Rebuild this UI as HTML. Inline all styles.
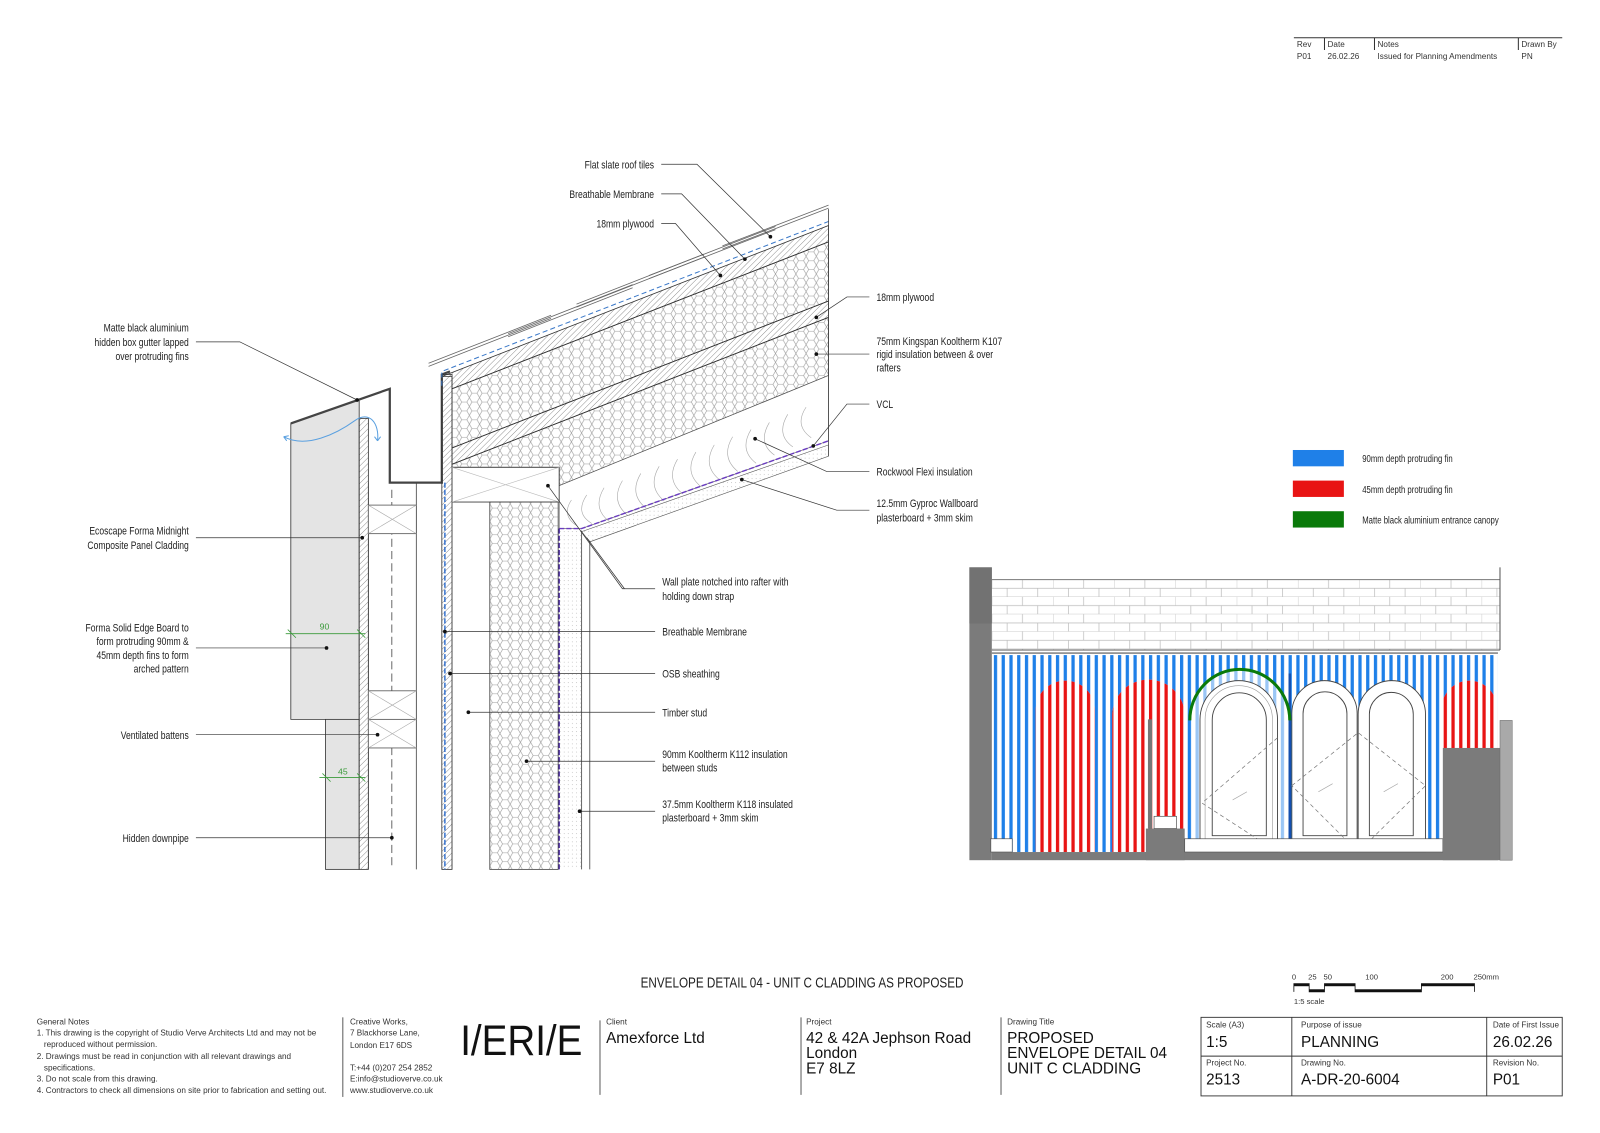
<!DOCTYPE html>
<html><head><meta charset="utf-8"><style>
html,body{margin:0;padding:0;background:#fff}
svg{display:block}
.t{font-family:"Liberation Sans",sans-serif;font-size:10.5px;fill:#222}
.s{font-family:"Liberation Sans",sans-serif;font-size:8px;fill:#333}
.m{font-family:"Liberation Sans",sans-serif;fill:#111}
</style></head><body>
<svg width="1600" height="1133" viewBox="0 0 1600 1133" xmlns="http://www.w3.org/2000/svg">
<defs>
<pattern id="hex" width="10" height="17.32" patternUnits="userSpaceOnUse">
<path d="M0,0 L2.5,4.33 L7.5,4.33 L10,0 M2.5,4.33 L0,8.66 L2.5,12.99 L7.5,12.99 L10,8.66 L7.5,4.33 M2.5,12.99 L0,17.32 M7.5,12.99 L10,17.32" fill="none" stroke="#999" stroke-width="0.6"/>
</pattern>
<pattern id="hatch" width="4" height="4" patternUnits="userSpaceOnUse" patternTransform="rotate(45)">
<line x1="0" y1="0" x2="0" y2="4" stroke="#666" stroke-width="0.7"/>
</pattern>
<pattern id="blue" width="7.6" height="10" patternUnits="userSpaceOnUse" x="974">
<rect x="0" y="0" width="3.2" height="10" fill="#1f80e8"/>
</pattern>
<pattern id="red" width="7.6" height="10" patternUnits="userSpaceOnUse" x="974">
<rect x="0" y="0" width="3.2" height="10" fill="#e81414"/>
</pattern>
<pattern id="brick" width="60" height="17" patternUnits="userSpaceOnUse" x="972" y="568">
<rect width="60" height="17" fill="#fff"/>
<path d="M0,8.5H60M0,17H60M0,0V8.5M30,0V8.5M15,8.5V17M45,8.5V17" stroke="#bbb" stroke-width="0.7" fill="none"/>
</pattern>
<pattern id="dots" width="4" height="4" patternUnits="userSpaceOnUse">
<circle cx="1" cy="1" r="0.4" fill="#aaa"/>
</pattern>
</defs>
<g transform="scale(1.0204)">

<!-- Revision table -->
<g>
<line x1="1268" y1="37" x2="1531" y2="37" stroke="#333" stroke-width="1"/>
<line x1="1298" y1="37" x2="1298" y2="49" stroke="#333"/>
<line x1="1347" y1="37" x2="1347" y2="49" stroke="#333"/>
<line x1="1488" y1="37" x2="1488" y2="49" stroke="#333"/>
<text class="s" x="1271" y="46">Rev</text><text class="s" x="1301" y="46">Date</text><text class="s" x="1350" y="46">Notes</text><text class="s" x="1491" y="46">Drawn By</text>
<text class="s" x="1271" y="58">P01</text><text class="s" x="1301" y="58">26.02.26</text><text class="s" x="1350" y="58">Issued for Planning Amendments</text><text class="s" x="1491" y="58">PN</text>
</g>

<!-- ============ SECTION ============ -->
<g>
<polygon points="285,415 352,392 352,705 285,705" fill="#e4e4e4" stroke="#333" stroke-width="0.8"/>
<rect x="319" y="705" width="33" height="147" fill="#e4e4e4" stroke="#333" stroke-width="0.8"/>
<rect x="352" y="410" width="9" height="442" fill="url(#hatch)" stroke="#333" stroke-width="0.8"/>
<polyline points="285,415 382,381 382,473 433,473 433,367 441,364" fill="none" stroke="#444" stroke-width="2.2"/>
<line x1="361" y1="473" x2="361" y2="852" stroke="#444" stroke-width="0.8"/>
<line x1="408" y1="473" x2="408" y2="852" stroke="#444" stroke-width="0.8"/>
<line x1="384" y1="480" x2="384" y2="852" stroke="#444" stroke-width="0.8" stroke-dasharray="8,4"/>
<rect x="361" y="495" width="47" height="28" fill="#fff" stroke="#555" stroke-width="0.8"/>
<path d="M361,495L408,523M408,495L361,523" stroke="#aaa" stroke-width="0.6"/>
<rect x="361" y="677" width="47" height="28" fill="#fff" stroke="#555" stroke-width="0.8"/>
<rect x="361" y="705" width="47" height="28" fill="#fff" stroke="#555" stroke-width="0.8"/>
<path d="M361,677L408,705M408,677L361,705M361,705L408,733M408,705L361,733" stroke="#aaa" stroke-width="0.6"/>
<rect x="433" y="367" width="10" height="485" fill="url(#hatch)" stroke="#333" stroke-width="0.8"/>
<line x1="436" y1="473" x2="436" y2="852" stroke="#1a5fc8" stroke-width="1.3" stroke-dasharray="5,2"/>
<polygon points="433,369 812,221 812,237 443,381 443,369" fill="url(#hatch)" stroke="#333" stroke-width="0.8"/>
<polygon points="443,381 812,237 812,295 443,439" fill="url(#hex)" stroke="#333" stroke-width="0.8"/>
<polygon points="443,439 812,295 812,311 443,455" fill="url(#hatch)" stroke="#333" stroke-width="0.8"/>
<polygon points="443,455 812,311 812,368 548,476 548,458 443,458" fill="url(#hex)" stroke="#333" stroke-width="0.8"/>
<polygon points="548,476 812,368 812,432 570,518 548,518" fill="#fff" stroke="#555" stroke-width="0.6"/>
<g fill="none" stroke="#aaa" stroke-width="0.6">
<path d="M560,490 q-10,15 5,25 M575,485 q-12,18 5,28 M592,478 q-12,20 5,33 M610,471 q-12,20 5,34 M628,464 q-12,20 5,34 M646,457 q-12,20 5,34 M664,450 q-12,20 5,34 M682,443 q-12,20 5,34 M700,436 q-12,20 5,34 M718,428 q-12,20 5,34 M736,421 q-12,20 5,33 M754,414 q-12,20 5,32 M772,406 q-12,20 5,32 M790,399 q-12,18 5,30"/>
</g>
<!-- membrane + tiles -->
<path d="M433,378 V364 L812,217" fill="none" stroke="#3a78c8" stroke-width="1" stroke-dasharray="5,3"/>
<g fill="none" stroke="#666" stroke-width="0.8">
<path d="M420,356 L540,309 M420,359 L540,312"/>
<path d="M498,327 L620,279 M498,330 L620,282"/>
<path d="M565,298 L690,249 M565,301 L690,252"/>
<path d="M636,270 L760,222 M636,273 L760,225"/>
<path d="M708,241 L812,201 M708,244 L812,204"/>
</g>
<line x1="812" y1="205" x2="812" y2="447" stroke="#444" stroke-width="0.8"/>
<polyline points="548,518 570,518 812,432" fill="none" stroke="#6a3cc0" stroke-width="1.4" stroke-dasharray="5,2"/>
<polygon points="570,521 812,436 812,447 578,531" fill="url(#dots)" stroke="#555" stroke-width="0.6"/>
<rect x="443" y="458" width="105" height="34" fill="#fff" stroke="#444" stroke-width="0.9"/>
<path d="M443,458L548,492M548,458L443,492" stroke="#bbb" stroke-width="0.6"/>
<rect x="480" y="492" width="67" height="360" fill="url(#hex)" stroke="#444" stroke-width="0.8"/>
<line x1="443" y1="492" x2="443" y2="852" stroke="#444" stroke-width="0.8"/>
<rect x="548" y="518" width="22" height="334" fill="url(#dots)"/>
<line x1="548" y1="518" x2="548" y2="852" stroke="#4a2aa0" stroke-width="1.4" stroke-dasharray="5,2"/>
<line x1="570" y1="520" x2="570" y2="852" stroke="#444" stroke-width="0.8"/>
<line x1="578" y1="530" x2="578" y2="852" stroke="#444" stroke-width="0.8"/>
<path d="M278,428 C300,440 330,425 348,412 C362,402 372,415 370,432" fill="none" stroke="#5aa0e0" stroke-width="1"/>
<path d="M278,428 l5,-1 M278,428 l3,4 M370,432 l-3,-4 M370,432 l3,-4" stroke="#5aa0e0" stroke-width="1"/>
<g stroke="#3a9a3a" stroke-width="0.8">
<line x1="280" y1="621" x2="358" y2="621"/><line x1="282" y1="617" x2="290" y2="625"/><line x1="350" y1="617" x2="358" y2="625"/>
<line x1="313" y1="762" x2="358" y2="762"/><line x1="316" y1="758" x2="324" y2="766"/><line x1="350" y1="758" x2="358" y2="766"/>
</g>
<text x="318" y="617" font-family="Liberation Sans,sans-serif" font-size="8.5" fill="#3a9a3a" text-anchor="middle">90</text>
<text x="336" y="759" font-family="Liberation Sans,sans-serif" font-size="8.5" fill="#3a9a3a" text-anchor="middle">45</text>

<g stroke="#333" stroke-width="0.7" fill="none">
<polyline points="648,161 683,161 755,232"/>
<polyline points="648,190 668,190 730,254"/>
<polyline points="648,219 662,219 706,270"/>
<polyline points="192,335 235,335 350,392"/>
<polyline points="192,527 355,527"/>
<polyline points="192,635 320,635"/>
<polyline points="192,720 370,720"/>
<polyline points="192,821 384,821"/>
<polyline points="852,291 830,291 800,311"/>
<polyline points="852,347 800,347"/>
<polyline points="852,396 830,396 797,437"/>
<polyline points="852,462 810,462 740,430"/>
<polyline points="852,500 820,500 727,470"/>
<polyline points="642,577 610,577 537,476"/>
<line x1="575" y1="527" x2="612" y2="577"/>
<polyline points="642,619 436,619"/>
<polyline points="642,660 441,660"/>
<polyline points="642,698 459,698"/>
<polyline points="642,746 516,746"/>
<polyline points="642,795 568,795"/>
</g>
<g fill="#111">
<circle cx="755" cy="232" r="1.8"/><circle cx="730" cy="254" r="1.8"/><circle cx="706" cy="270" r="1.8"/>
<circle cx="350" cy="392" r="1.8"/><circle cx="355" cy="527" r="1.8"/><circle cx="320" cy="635" r="1.8"/>
<circle cx="370" cy="720" r="1.8"/><circle cx="384" cy="821" r="1.8"/><circle cx="800" cy="311" r="1.8"/>
<circle cx="800" cy="347" r="1.8"/><circle cx="797" cy="437" r="1.8"/><circle cx="740" cy="430" r="1.8"/>
<circle cx="727" cy="470" r="1.8"/><circle cx="537" cy="476" r="1.8"/><circle cx="436" cy="619" r="1.8"/>
<circle cx="441" cy="660" r="1.8"/><circle cx="459" cy="698" r="1.8"/><circle cx="516" cy="746" r="1.8"/>
<circle cx="568" cy="795" r="1.8"/>
</g>
<g class="t">
<text transform="translate(641,165) scale(0.8,1)" text-anchor="end">Flat slate roof tiles</text>
<text transform="translate(641,194) scale(0.8,1)" text-anchor="end">Breathable Membrane</text>
<text transform="translate(641,223) scale(0.8,1)" text-anchor="end">18mm plywood</text>
<text transform="translate(185,325) scale(0.8,1)" text-anchor="end">Matte black aluminium</text>
<text transform="translate(185,339) scale(0.8,1)" text-anchor="end">hidden box gutter lapped</text>
<text transform="translate(185,353) scale(0.8,1)" text-anchor="end">over protruding fins</text>
<text transform="translate(185,524) scale(0.8,1)" text-anchor="end">Ecoscape Forma Midnight</text>
<text transform="translate(185,538) scale(0.8,1)" text-anchor="end">Composite Panel Cladding</text>
<text transform="translate(185,619) scale(0.8,1)" text-anchor="end">Forma Solid Edge Board to</text>
<text transform="translate(185,632) scale(0.8,1)" text-anchor="end">form protruding 90mm &amp;</text>
<text transform="translate(185,646) scale(0.8,1)" text-anchor="end">45mm depth fins to form</text>
<text transform="translate(185,659) scale(0.8,1)" text-anchor="end">arched pattern</text>
<text transform="translate(185,724) scale(0.8,1)" text-anchor="end">Ventilated battens</text>
<text transform="translate(185,825) scale(0.8,1)" text-anchor="end">Hidden downpipe</text>
<text transform="translate(859,295) scale(0.8,1)">18mm plywood</text>
<text transform="translate(859,338) scale(0.8,1)">75mm Kingspan Kooltherm K107</text>
<text transform="translate(859,351) scale(0.8,1)">rigid insulation between &amp; over</text>
<text transform="translate(859,364) scale(0.8,1)">rafters</text>
<text transform="translate(859,400) scale(0.8,1)">VCL</text>
<text transform="translate(859,466) scale(0.8,1)">Rockwool Flexi insulation</text>
<text transform="translate(859,497) scale(0.8,1)">12.5mm Gyproc Wallboard</text>
<text transform="translate(859,511) scale(0.8,1)">plasterboard + 3mm skim</text>
<text transform="translate(649,574) scale(0.8,1)">Wall plate notched into rafter with</text>
<text transform="translate(649,588) scale(0.8,1)">holding down strap</text>
<text transform="translate(649,623) scale(0.8,1)">Breathable Membrane</text>
<text transform="translate(649,664) scale(0.8,1)">OSB sheathing</text>
<text transform="translate(649,702) scale(0.8,1)">Timber stud</text>
<text transform="translate(649,743) scale(0.8,1)">90mm Kooltherm K112 insulation</text>
<text transform="translate(649,756) scale(0.8,1)">between studs</text>
<text transform="translate(649,792) scale(0.8,1)">37.5mm Kooltherm K118 insulated</text>
<text transform="translate(649,805) scale(0.8,1)">plasterboard + 3mm skim</text>
</g>
</g>

<!-- LEGEND -->
<rect x="1267" y="441" width="50" height="16" fill="#1f80e8"/>
<rect x="1267" y="471" width="50" height="16" fill="#e81414"/>
<rect x="1267" y="501" width="50" height="16" fill="#0a7a0a"/>
<g class="t" style="font-size:9.5px">
<text transform="translate(1335,453) scale(0.8,1)">90mm depth protruding fin</text>
<text transform="translate(1335,483) scale(0.8,1)">45mm depth protruding fin</text>
<text transform="translate(1335,513) scale(0.8,1)">Matte black aluminium entrance canopy</text>
</g>

<!-- ELEVATION -->
<g>
<rect x="972" y="568" width="498" height="69" fill="url(#brick)"/>
<line x1="972" y1="568" x2="1470" y2="568" stroke="#777"/>
<line x1="972" y1="637" x2="1470" y2="637" stroke="#555"/>
<line x1="972" y1="640" x2="1468" y2="640" stroke="#555"/>
<line x1="1470" y1="556" x2="1470" y2="637" stroke="#555"/>
<rect x="972" y="642" width="496" height="193" fill="#fff"/>
<rect x="972" y="642" width="496" height="193" fill="url(#blue)"/>
<path d="M1015,835 V696 A29,29 0 0 1 1073,696 V835 Z" fill="#fff"/>
<path d="M1015,835 V696 A29,29 0 0 1 1073,696 V835 Z" fill="url(#red)"/>
<path d="M1090,835 V701 A35.5,35 0 0 1 1161,701 V835 Z" fill="#fff"/>
<path d="M1090,835 V701 A35.5,35 0 0 1 1161,701 V835 Z" fill="url(#red)"/>
<path d="M1412,743 V697 A28,30 0 0 1 1468,697 V743 Z" fill="#fff"/>
<path d="M1412,743 V697 A28,30 0 0 1 1468,697 V743 Z" fill="url(#red)"/>
<path d="M1168,835 V704 A47,47 0 0 1 1262,704 V835 Z" fill="#fff" opacity="0.55"/>
<line x1="1264" y1="660" x2="1264" y2="835" stroke="#1450b0" stroke-width="2.5"/>
<g fill="#fff" stroke="#444" stroke-width="0.9">
<path d="M1176,835 V705 A38,38 0 0 1 1252,705 V835 Z"/>
<path d="M1266,835 V699 A32,32 0 0 1 1330,699 V835 Z"/>
<path d="M1331,835 V700 A33,33 0 0 1 1397,700 V835 Z"/>
<path d="M1188,819 V705.5 A26.5,26.5 0 0 1 1241,705.5 V819 Z"/>
<path d="M1277,819 V699.5 A21.5,21.5 0 0 1 1320,699.5 V819 Z"/>
<path d="M1342,819 V700 A21.5,21.5 0 0 1 1385,700 V819 Z"/>
</g>
<path d="M1181,835 V705 A33,33 0 0 1 1247,705 V835" fill="none" stroke="#999" stroke-width="0.6"/>
<g stroke="#777" stroke-width="0.7" stroke-dasharray="4,3" fill="none">
<polyline points="1252,723 1178,787 1252,835"/>
<polygon points="1266,770 1331,718 1397,770 1331,835"/>
</g>
<g stroke="#aaa" stroke-width="0.7"><line x1="1208" y1="784" x2="1222" y2="776"/><line x1="1292" y1="776" x2="1306" y2="768"/><line x1="1356" y1="776" x2="1370" y2="768"/></g>
<path d="M1166,706 A49,50 0 0 1 1264,706" fill="none" stroke="#0a7a0a" stroke-width="3"/>
<rect x="950" y="556" width="22" height="287" fill="#7b7b7b"/>
<rect x="950" y="556" width="22" height="55" fill="#727272"/>
<rect x="972" y="835" width="496" height="8" fill="#7b7b7b"/>
<rect x="971" y="822" width="21" height="13" fill="#fff" stroke="#555" stroke-width="0.7"/>
<rect x="1123" y="812" width="38" height="31" fill="#7b7b7b"/>
<rect x="1131" y="800" width="22" height="12" fill="#fff" stroke="#555" stroke-width="0.7"/>
<rect x="1125" y="705" width="4" height="107" fill="#777"/>
<rect x="1161" y="822" width="253" height="13" fill="#fff" stroke="#555" stroke-width="0.7"/>
<rect x="1414" y="733" width="56" height="110" fill="#7b7b7b"/>
<rect x="1470" y="706" width="12" height="137" fill="#a9a9a9" stroke="#666" stroke-width="0.5"/>
</g>

<!-- TITLE -->
<text transform="translate(786,968) scale(0.82,1)" text-anchor="middle" style="font-family:'Liberation Sans',sans-serif;font-size:14px;fill:#222">ENVELOPE DETAIL 04 - UNIT C CLADDING AS PROPOSED</text>

<g>
<path d="M1268,972 V964 H1283 V972 H1298 V964 H1328 V972 H1393 V964 H1445 V972" fill="none" stroke="#111" stroke-width="0.8"/>
<rect x="1268" y="964" width="15" height="2.5" fill="#111"/><rect x="1283" y="969.5" width="15" height="2.5" fill="#111"/>
<rect x="1298" y="964" width="30" height="2.5" fill="#111"/><rect x="1328" y="969.5" width="65" height="2.5" fill="#111"/>
<rect x="1393" y="964" width="52" height="2.5" fill="#111"/>
<g class="s" style="font-size:7.5px"><text x="1266" y="960">0</text><text x="1282" y="960">25</text><text x="1297" y="960">50</text><text x="1338" y="960">100</text><text x="1412" y="960">200</text><text x="1444" y="960">250mm</text><text x="1268" y="984">1:5 scale</text></g>
</g>

<g class="s">
<text x="36" y="1004">General Notes</text>
<text x="36" y="1015">1. This drawing is the copyright of Studio Verve Architects Ltd and may not be</text>
<text x="43" y="1026">reproduced without permission.</text>
<text x="36" y="1038">2. Drawings must be read in conjunction with all relevant drawings and</text>
<text x="43" y="1049">specifications.</text>
<text x="36" y="1060">3. Do not scale from this drawing.</text>
<text x="36" y="1071">4. Contractors to check all dimensions on site prior to fabrication and setting out.</text>
<text x="343" y="1004">Creative Works,</text>
<text x="343" y="1015">7 Blackhorse Lane,</text>
<text x="343" y="1027">London E17 6DS</text>
<text x="343" y="1049">T:+44 (0)207 254 2852</text>
<text x="343" y="1060">E:info@studioverve.co.uk</text>
<text x="343" y="1071">www.studioverve.co.uk</text>
<text x="594" y="1004">Client</text>
<text x="790" y="1004">Project</text>
<text x="987" y="1004">Drawing Title</text>
<text x="1182" y="1007">Scale (A3)</text>
<text x="1275" y="1007">Purpose of issue</text>
<text x="1463" y="1007">Date of First Issue</text>
<text x="1182" y="1044">Project No.</text>
<text x="1275" y="1044">Drawing No.</text>
<text x="1463" y="1044">Revision No.</text>
</g>
<line x1="336" y1="997" x2="336" y2="1075" stroke="#333" stroke-width="0.8"/>
<line x1="588" y1="1000" x2="588" y2="1073" stroke="#333" stroke-width="0.8"/>
<line x1="785" y1="997" x2="785" y2="1073" stroke="#333" stroke-width="0.8"/>
<line x1="981" y1="997" x2="981" y2="1073" stroke="#333" stroke-width="0.8"/>
<text transform="translate(451,1034) scale(0.9,1)" class="m" style="font-size:42px">I/ERI/E</text>
<g class="m" style="font-size:15px">
<text x="594" y="1022">Amexforce Ltd</text>
<text x="790" y="1022">42 &amp; 42A Jephson Road</text>
<text x="790" y="1037">London</text>
<text x="790" y="1052">E7 8LZ</text>
<text x="987" y="1022">PROPOSED</text>
<text x="987" y="1037">ENVELOPE DETAIL 04</text>
<text x="987" y="1052">UNIT C CLADDING</text>
<text x="1182" y="1026">1:5</text>
<text x="1275" y="1026">PLANNING</text>
<text x="1463" y="1026">26.02.26</text>
<text x="1182" y="1063">2513</text>
<text x="1275" y="1063">A-DR-20-6004</text>
<text x="1463" y="1063">P01</text>
</g>
<g stroke="#333" stroke-width="0.9" fill="none">
<rect x="1177" y="997" width="354" height="77"/>
<line x1="1177" y1="1035" x2="1531" y2="1035"/>
<line x1="1266" y1="997" x2="1266" y2="1074"/>
<line x1="1457" y1="997" x2="1457" y2="1074"/>
</g>
</g>
</svg>
</body></html>
